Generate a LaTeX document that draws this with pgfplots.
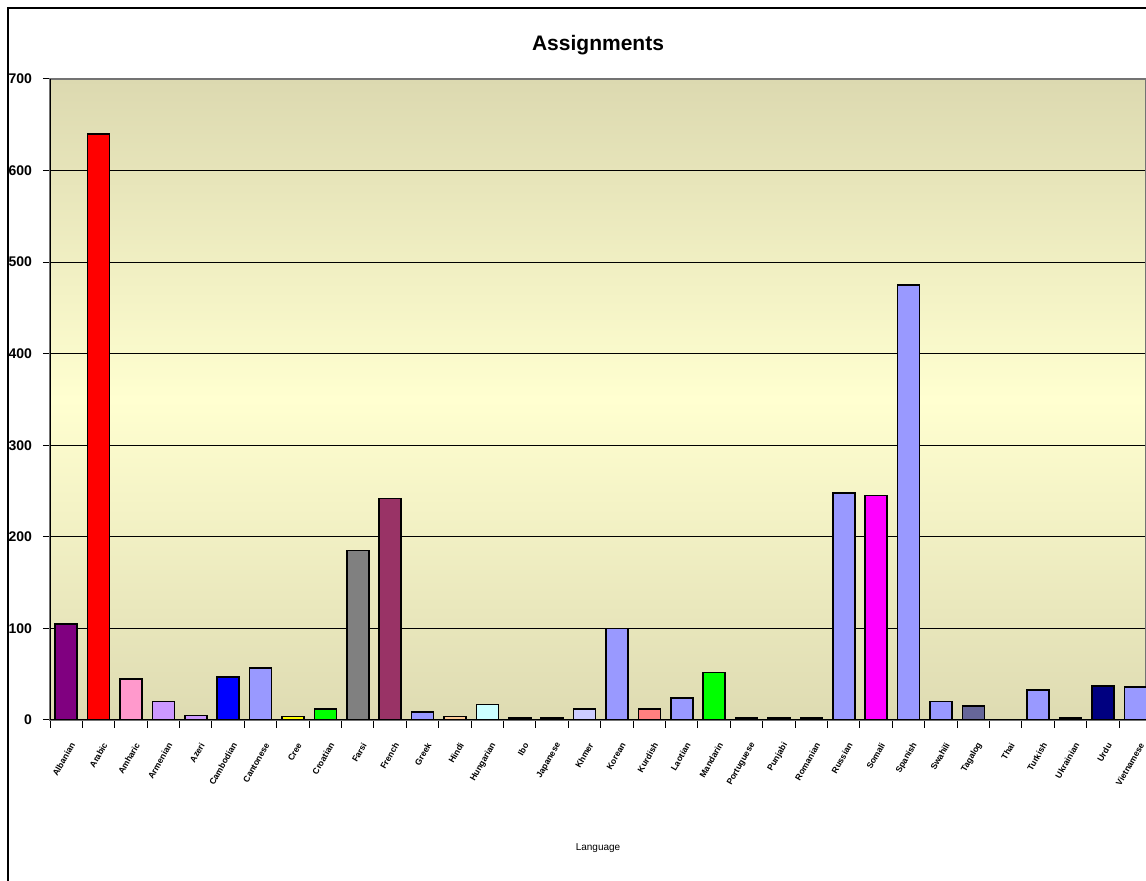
\documentclass[border=0pt]{standalone}
\usepackage{pgfplots}
\pgfplotsset{compat=1.18}
\usepackage{fontspec}
\setmainfont{Liberation Sans}
\definecolor{bgtop}{RGB}{220,217,176}
\definecolor{bgmid}{RGB}{255,255,208}
\definecolor{bgbot}{RGB}{222,219,178}
\definecolor{cpurple}{HTML}{800080}
\definecolor{cred}{HTML}{FF0000}
\definecolor{cpink}{HTML}{FF99CC}
\definecolor{clav}{HTML}{CC99FF}
\definecolor{cblue}{HTML}{0000FF}
\definecolor{cperi}{HTML}{9999FF}
\definecolor{cyel}{HTML}{FFFF00}
\definecolor{cgreen}{HTML}{00FF00}
\definecolor{cgray}{HTML}{808080}
\definecolor{cplum}{HTML}{993366}
\definecolor{ctan}{HTML}{FFCC99}
\definecolor{ccyan}{HTML}{CCFFFF}
\definecolor{cllav}{HTML}{CCCCFF}
\definecolor{csalmon}{HTML}{FF8080}
\definecolor{cmag}{HTML}{FF00FF}
\definecolor{cslate}{HTML}{666699}
\definecolor{cnavy}{HTML}{000080}
\begin{document}
\begin{tikzpicture}[x=1pt,y=1pt]
\useasboundingbox (-25pt,-80.5pt) rectangle (548pt,360pt);
\begin{scope}
\clip (-25pt,-80.5pt) rectangle (548pt,360pt);
\draw[black, line width=0.7pt] (-21pt,-100pt) -- (-21pt,356pt) -- (600pt,356pt);
\end{scope}
\node[font=\fontsize{10.5}{12}\selectfont\bfseries] at (274pt,337.5pt) {Assignments};
\node[font=\fontsize{5}{6}\selectfont] at (274pt,-64pt) {Language};
\begin{axis}[
  at={(0pt,0pt)}, anchor=south west,
  scale only axis, width=548pt, height=320.5pt,
  ymin=0, ymax=700, ytick={0,100,...,700},
  xmin=-0.5, xmax=33.33,
  ybar, bar width=0.68,
  axis line style={draw=gray!90!black, line width=1pt},
  ymajorgrids, grid style={black, line width=0.4pt},
  axis background/.style={top color=bgtop, bottom color=bgbot, middle color=bgmid},
  tick align=outside,
  xtick={0,...,33},
  major x tick style={draw=none},
  minor xtick={-0.5,0.5,...,33.5},
  minor x tick style={black, line width=0.5pt},
  minor tick length=4pt,
  major tick length=3.5pt,
  y tick style={black, line width=0.5pt},
  xtick pos=bottom, ytick pos=left,
  yticklabel style={font=\fontsize{7}{8}\selectfont\bfseries, xshift=-2pt},
  /pgf/number format/assume math mode=true,
  xticklabels={Albanian,Arabic,Amharic,Armenian,Azeri,Cambodian,Cantonese,Cree,Croatian,Farsi,French,Greek,Hindi,Hungarian,Ibo,Japanese,Khmer,Korean,Kurdish,Laotian,Mandarin,Portuguese,Punjabi,Romanian,Russian,Somali,Spanish,Swahili,Tagalog,Thai,Turkish,Ukrainian,Urdu,Vietnamese},
  xticklabel style={font=\fontsize{4.3}{5}\selectfont\bfseries, rotate=60, anchor=east, yshift=-7pt, xshift=-2pt},
  every axis plot/.append style={draw=black, line width=0.8pt, bar shift=0pt},
  clip=true,
]
\addplot[fill=cpurple] coordinates {(0,105)};
\addplot[fill=cred] coordinates {(1,640)};
\addplot[fill=cpink] coordinates {(2,45)};
\addplot[fill=clav] coordinates {(3,20) (4,5)};
\addplot[fill=cblue] coordinates {(5,47)};
\addplot[fill=cperi] coordinates {(6,57) (11,9) (14,2) (15,2) (17,100) (19,24) (21,2) (22,2) (23,2) (24,248) (26,475) (27,20) (30,33) (31,2) (33,36)};
\addplot[fill=cyel] coordinates {(7,4)};
\addplot[fill=cgreen] coordinates {(8,12) (20,52)};
\addplot[fill=cgray] coordinates {(9,185)};
\addplot[fill=cplum] coordinates {(10,242)};
\addplot[fill=ctan] coordinates {(12,4)};
\addplot[fill=ccyan] coordinates {(13,17)};
\addplot[fill=cllav] coordinates {(16,12)};
\addplot[fill=csalmon] coordinates {(18,12)};
\addplot[fill=cmag] coordinates {(25,245)};
\addplot[fill=cslate] coordinates {(28,15)};
\addplot[fill=cnavy] coordinates {(32,37)};
\draw[black, line width=0.7pt] (rel axis cs:0,0) -- (rel axis cs:1,0);
\draw[black, line width=0.7pt] (rel axis cs:0,0) -- (rel axis cs:0,1);
\end{axis}
\end{tikzpicture}
\end{document}
